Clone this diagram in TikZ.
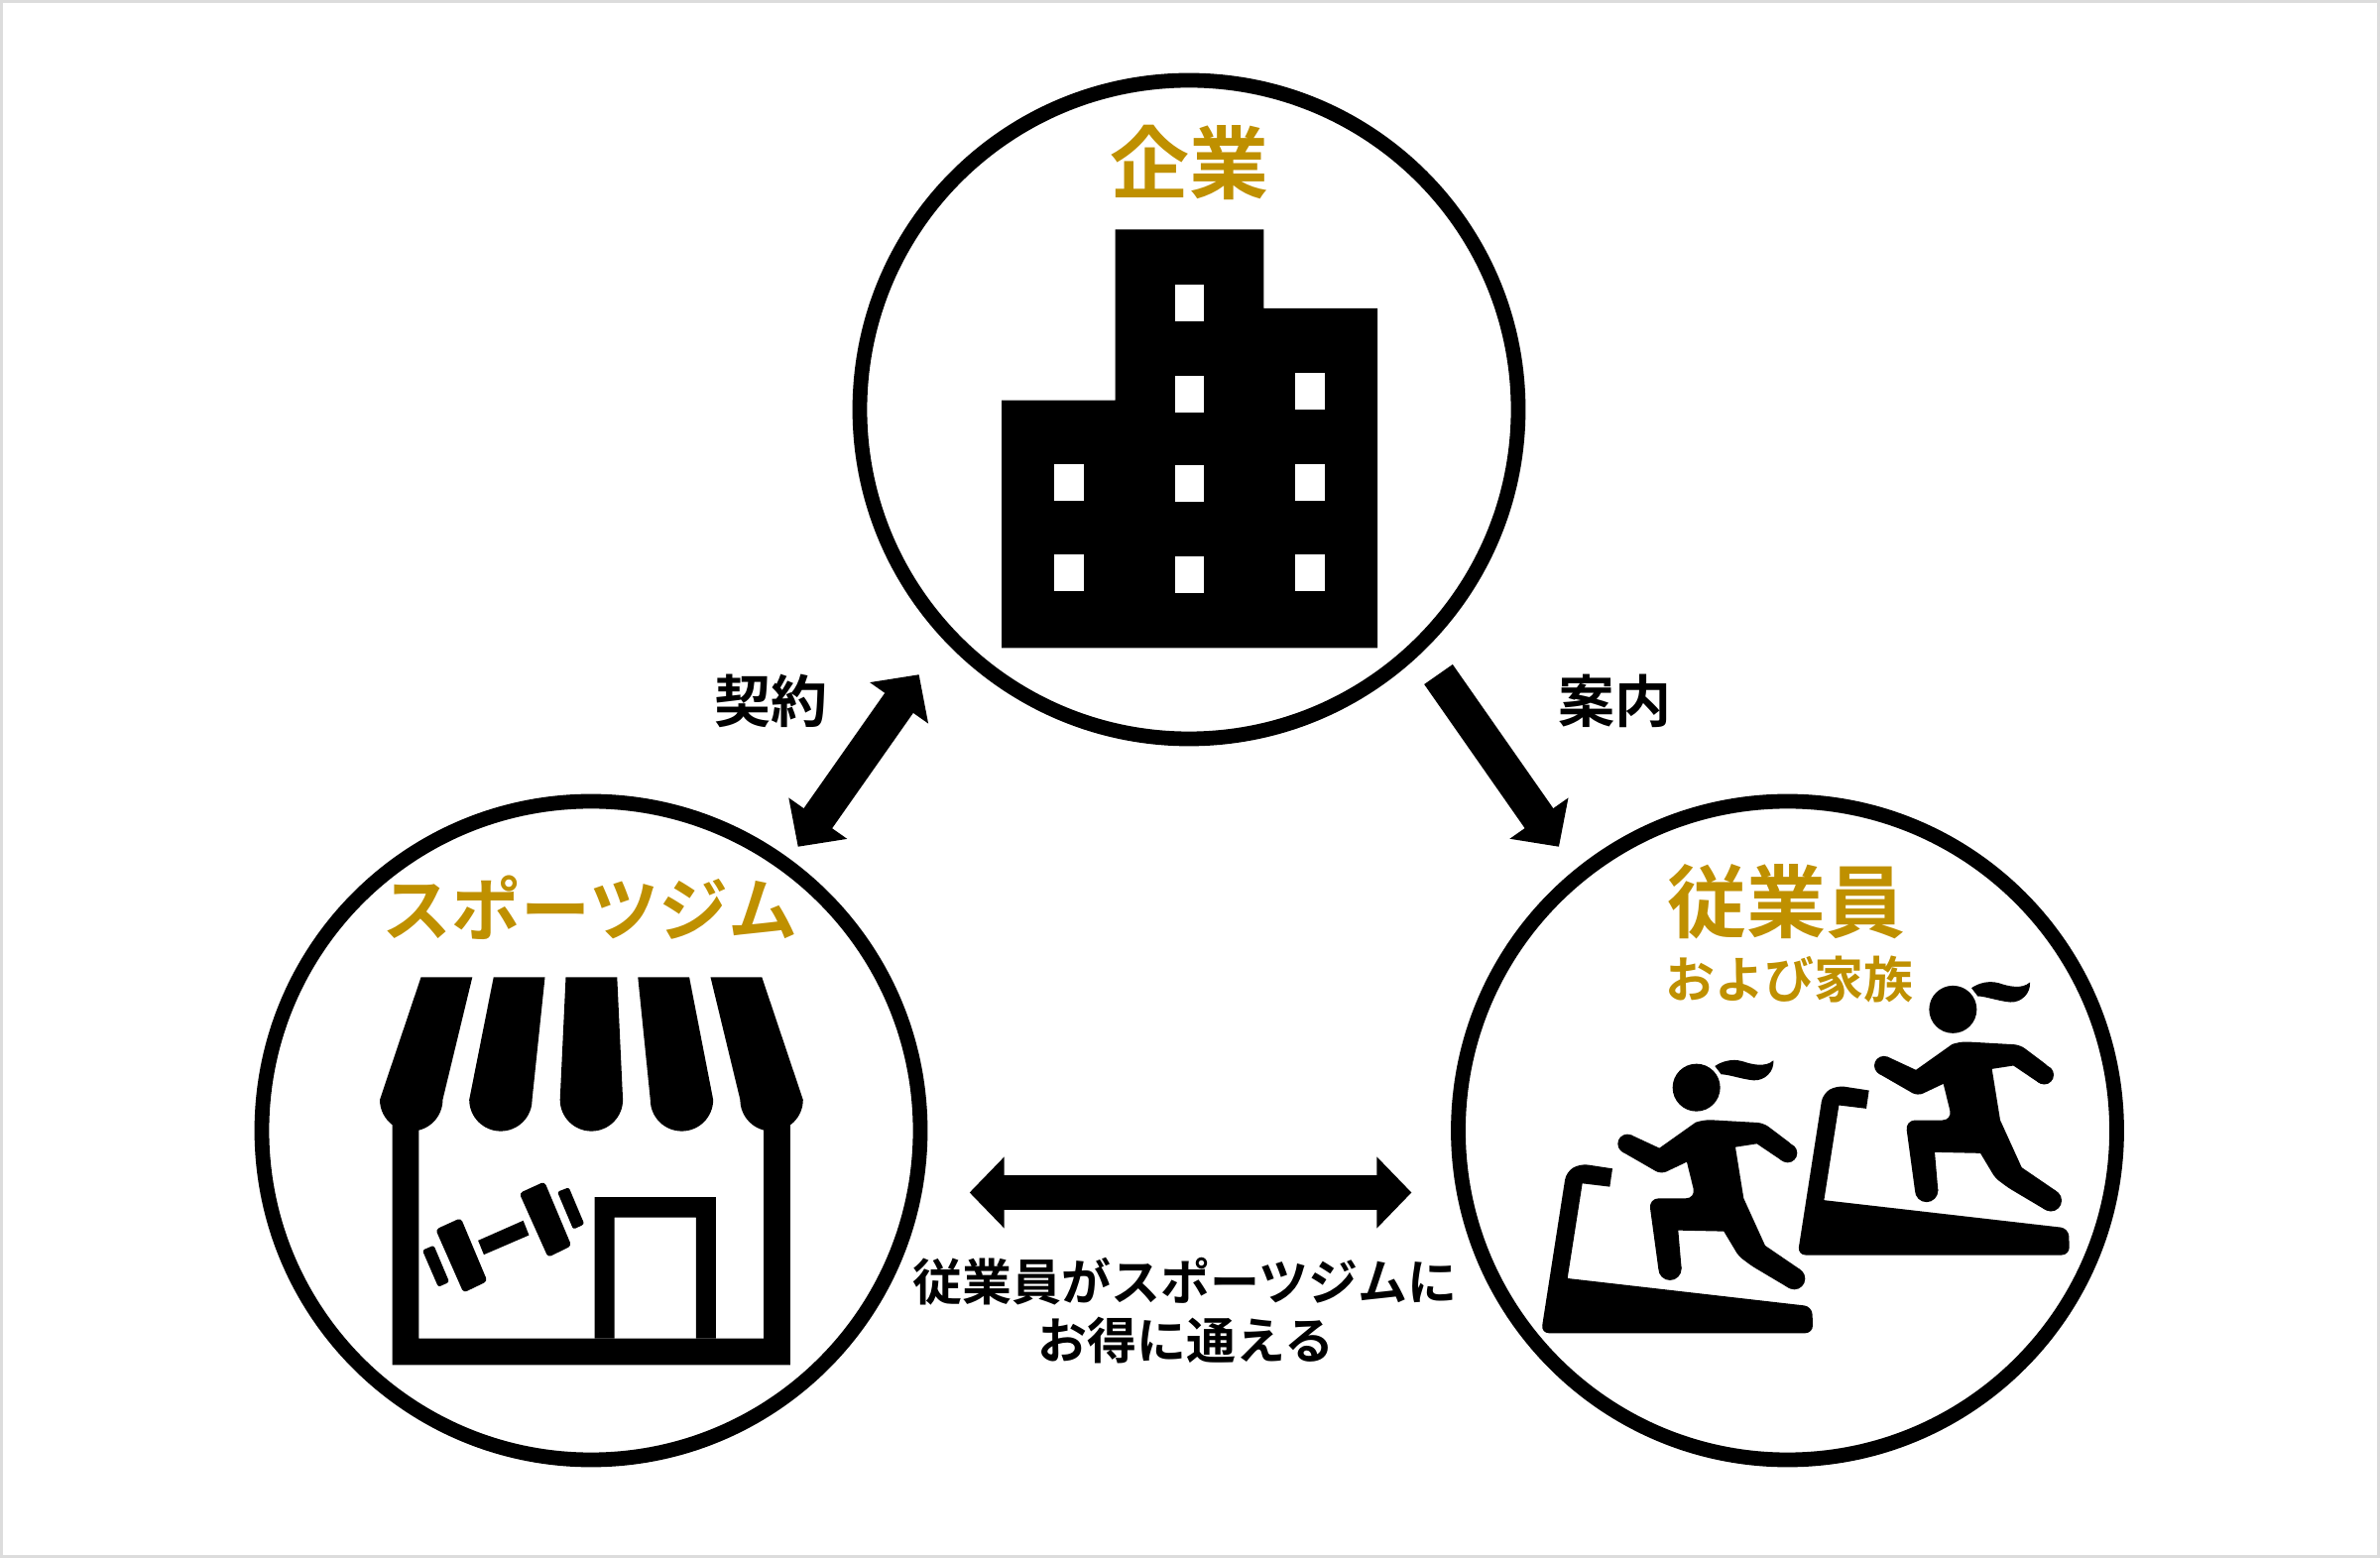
\documentclass[tikz,border=0pt]{standalone}
\usepackage{fontspec}
\usetikzlibrary{arrows.meta}
\newfontfamily\jpheavy{Noto Sans CJK JP Bold}
\definecolor{titlegold}{HTML}{BF9000}
\definecolor{framegray}{HTML}{DCDCDC}
\tikzset{
  hub/.style = {draw, circle, line width = 3.7pt, inner sep = 0pt, minimum size = 166pt},
  bigarrow/.style = {line width = 8.75pt, {Triangle[length = 8.75pt, width = 17.5pt]}-{Triangle[length = 8.75pt, width = 17.5pt]}},
  onearrow/.style = {line width = 8.75pt, -{Triangle[length = 8.75pt, width = 17.5pt]}},
  toplabel/.style = {text = titlegold, inner sep = 0pt, font = \jpheavy\fontsize{20}{22}\selectfont},
  sublabel/.style = {text = titlegold, inner sep = 0pt, font = \jpheavy\fontsize{12.5}{14}\selectfont},
  linklabel/.style = {inner sep = 0pt, font = \jpheavy\fontsize{14.25}{16}\selectfont},
  notelabel/.style = {inner sep = 0pt, font = \jpheavy\fontsize{12.5}{14}\selectfont}
}
\begin{document}
\begin{tikzpicture}[x = 0.25pt, y = -0.25pt]
\useasboundingbox (0, 0) rectangle (2400, 1571);
\draw [framegray, line width = 0.75pt, fill = white](1.5, 1.5) rectangle (2398.5, 1569.5);

\node [hub] (company) at (1199, 413) {};
\node [hub] (gym) at (596, 1140) {};
\node [hub] (staff) at (1802.5, 1140) {};

\node [toplabel] (companytitle) at (1199, 164) {企業};
\node [toplabel, font = \jpheavy\fontsize{17.5}{20}\selectfont] (gymtitle) at (595, 915) {スポーツジム};
\node [toplabel] (stafftitle) at (1801, 909) {従業員};
\node [sublabel] (stafffamily) at (1804, 988) {および家族};

\coordinate (contracttop) at (926.7, 680.2);
\coordinate (contractbottom) at (804.7, 853.8);
\coordinate (guidestart) at (1450.5, 680);
\coordinate (guideend) at (1572, 853.8);
\coordinate (usegym) at (977.7, 1202.5);
\coordinate (usestaff) at (1423.4, 1202.5);
\draw [bigarrow](contracttop) -- (contractbottom);
\draw [onearrow](guidestart) -- (guideend);
\draw [bigarrow](usegym) -- (usestaff);

\node [linklabel] (contract) at (777, 707) {契約};
\node [linklabel] (guide) at (1628, 707) {案内};
\node [notelabel] (noteone) at (1195, 1292) {従業員がスポーツジムに};
\node [notelabel] (notetwo) at (1196, 1352) {お得に通える};

% building
\fill (1010, 653.5) -- (1010, 403.7) -- (1124.7, 403.7) -- (1124.7, 231.3) -- (1274.3, 231.3) -- (1274.3, 310.9) -- (1389, 310.9) -- (1389, 653.5) -- cycle;
\foreach \wx/\wy in {1184.7/286.8, 1184.7/378.6, 1184.7/469.2, 1184.7/560.6, 1306.3/376.4, 1306.3/467.7, 1306.3/559.1, 1063/467.7, 1063/559.1}
  \fill [white](\wx, \wy) rectangle ++(29.7, 37);

% shop
\begin{scope}[shift = {(250, 800)}, scale = 0.4464]
\foreach \tl/\tr/\br in {391/507/440, 555/671/642, 718/834/847, 881/997/1051, 1045/1161/1254}
  \fill (\tl, 415) -- (\tr, 415) -- (\br, 692) arc (0:180:71) -- cycle;
\fill (326, 720) -- (386, 720) -- (386, 1231) -- (1165, 1231) -- (1165, 720) -- (1225, 720) -- (1225, 1291) -- (326, 1291) -- cycle;
\fill (783, 1231) -- (783, 912) -- (1057, 912) -- (1057, 1231) -- (1012, 1231) -- (1012, 958) -- (828, 958) -- (828, 1231) -- cycle;
\fill (520, 1010) -- (622, 965) -- (635, 998) -- (533, 1042) -- cycle;
\fill [rounded corners = 0.9pt](424, 985) -- (481, 959) -- (541, 1102) -- (487, 1128) -- cycle;
\fill [rounded corners = 0.6pt](394, 1032) -- (420, 1021) -- (455, 1104) -- (430, 1115) -- cycle;
\fill [rounded corners = 0.9pt](613, 903) -- (670, 877) -- (731, 1022) -- (678, 1048) -- cycle;
\fill [rounded corners = 0.6pt](699, 900) -- (725, 890) -- (760, 973) -- (735, 985) -- cycle;
\end{scope}

% runners
\foreach \dx/\dy in {0/0, 258.7/-78.8} {
\begin{scope}[shift = {(1540 + \dx, 1060 + \dy)}, scale = 0.3333]
\fill (512, 110) circle (72);
\fill (568, 45) .. controls (590, 30) and (620, 22) .. (650, 30) .. controls (680, 40) and (720, 50) .. (745, 28) .. controls (748, 60) and (720, 90) .. (685, 88) .. controls (650, 85) and (610, 70) .. (587, 70) -- cycle;
\fill (314, 253) -- (400, 293) -- (510, 215) [rounded corners = 1.5pt] -- (540, 207) -- (715, 217) -- (808, 287) [sharp corners] -- (772, 332) -- (695, 280) -- (630, 290) -- (655, 445) -- (720, 588) -- (827, 661) -- (791, 716) [rounded corners = 1pt] -- (680, 650) -- (640, 620) [sharp corners] -- (595, 545) -- (457, 542) -- (467, 658) -- (397, 658) [rounded corners = 2.5pt] -- (368, 445) -- (510, 445) [sharp corners] -- (483, 335) [rounded corners = 1.5pt] -- (405, 372) [sharp corners] -- (287, 304) -- cycle;
\foreach \ex/\ey/\er in {303/280/29, 788/308/29, 808/688/33, 432/658/35}
  \fill (\ex, \ey) circle (\er);
\fill (258, 355) [rounded corners = 2pt] -- (160, 340) -- (118, 365) -- (42, 853) -- (865, 853) -- (862, 772) [sharp corners] -- (122, 687) -- (167, 400) -- (250, 410) -- cycle;
\end{scope}
}
\end{tikzpicture}
\end{document}
